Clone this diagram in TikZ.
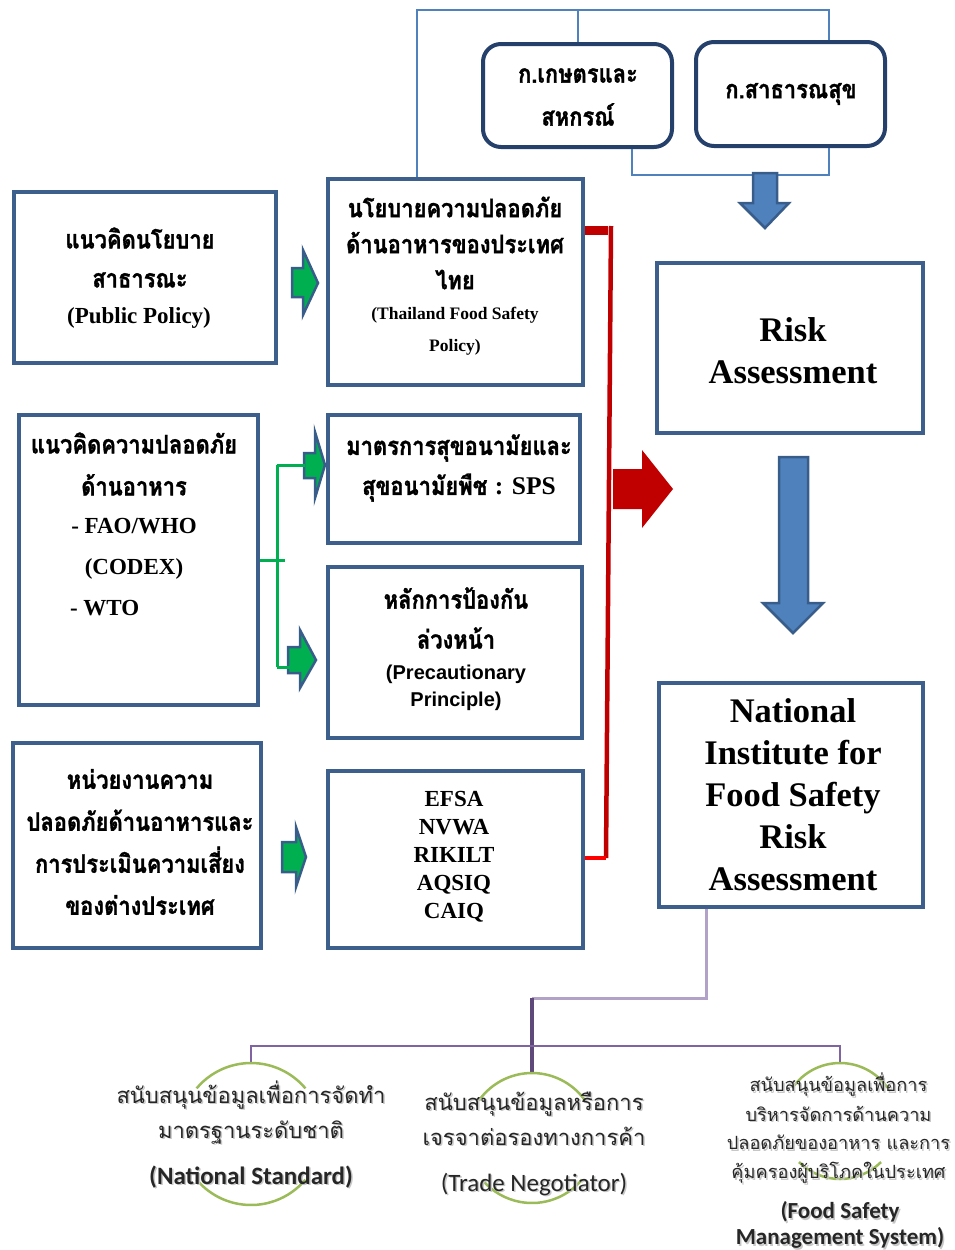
\documentclass[tikz,border=0pt]{standalone}
\usepackage{fontspec}
\setmainfont{Liberation Serif}
\newfontfamily\thaif[Script=Thai]{Loma}
\newfontfamily\thaibox[Script=Thai, FakeStretch=0.86, BoldFeatures={FakeBold=1.2}]{Loma}
\newfontfamily\sansf{Liberation Sans}
\newfontfamily\calf{Carlito}
\definecolor{boxblue}{RGB}{61,95,140}
\definecolor{navy}{RGB}{36,64,107}
\definecolor{linkblue}{RGB}{79,129,189}
\definecolor{arrowedge}{RGB}{56,93,138}
\definecolor{darkred}{RGB}{192,0,0}
\definecolor{brightred}{RGB}{255,0,0}
\definecolor{grn}{RGB}{0,176,80}
\definecolor{lilac}{RGB}{179,162,199}
\definecolor{plum}{RGB}{95,73,122}
\definecolor{violet2}{RGB}{128,100,162}
\definecolor{olive}{RGB}{155,187,89}
\begin{document}
\begin{tikzpicture}[x=1pt,y=-1pt,
  box/.style={draw=boxblue, line width=3.5pt, fill=white, inner sep=0pt},
  ministry/.style={draw=navy, line width=4pt, fill=white, rounded corners=18pt, inner sep=0pt},
  thtext/.style={align=center, inner sep=0pt, font=\thaibox\bfseries\fontsize{25.5}{#1}\selectfont},
  entext/.style={align=center, inner sep=0pt, font=\bfseries\fontsize{23}{#1}\selectfont},
  bigtext/.style={align=center, inner sep=0pt, font=\bfseries\fontsize{34.5}{42}\selectfont},
  subth/.style={align=center, inner sep=0pt, text=black!85, font=\thaif\fontsize{22}{#1}\selectfont},
  suben/.style={align=center, inner sep=0pt, text=black!85, font=\calf\fontsize{25}{#1}\selectfont},
  fsmth/.style={align=center, inner sep=0pt, text=black!85, font=\thaif\fontsize{18.2}{29}\selectfont},
  shade/.style={text=black!22},
  link/.style={draw=linkblue, line width=2pt},
  bluearrow/.style={fill=linkblue, draw=arrowedge, line width=2.5pt, line join=miter},
  greenarrow/.style={fill=grn, draw=arrowedge, line width=2.5pt, line join=miter},
  greenline/.style={draw=grn, line width=3pt},
  ring/.style={draw=olive, line width=2.5pt}
]
\useasboundingbox (0,0) rectangle (954,1250);

% ---------- ministries ----------
\node[ministry, minimum width=189pt, minimum height=103pt] (agri) at (577.5,95.5) {};
\node[ministry, minimum width=189pt, minimum height=104pt] (health) at (790.5,94) {};
\node[thtext=43] (agriT) at (578,97) {ก.เกษตรและ\\สหกรณ์};
\node[thtext=43] (healthT) at (791,94) {ก.สาธารณสุข};

% ---------- left column boxes ----------
\node[box, minimum width=262pt, minimum height=171pt] (pub) at (145,277.5) {};
\node[box, minimum width=239pt, minimum height=290pt] (concept) at (138.5,560) {};
\node[box, minimum width=248pt, minimum height=205pt] (agency) at (137,845.5) {};

% ---------- middle column boxes ----------
\node[box, minimum width=255pt, minimum height=206pt] (policy) at (455.5,282) {};
\node[box, minimum width=252pt, minimum height=128pt] (sps) at (454,479) {};
\node[box, minimum width=254pt, minimum height=171pt] (prec) at (455,652.5) {};
\node[box, minimum width=255pt, minimum height=177pt] (efsa) at (455.5,859.5) {};

% ---------- right column boxes ----------
\node[box, minimum width=266pt, minimum height=170pt] (risk) at (790,348) {};
\node[box, minimum width=264pt, minimum height=224pt] (nifsra) at (791,795) {};

% ---------- box texts ----------
\node[thtext=39] (pubTh) at (140,257.5) {แนวคิดนโยบาย\\สาธารณะ};
\node[entext=30] (pubEn) at (139,318) {(Public Policy)};

\node[thtext=42] (concTh) at (134,464) {แนวคิดความปลอดภัย\\ด้านอาหาร};
\node[entext=41] (concEn) at (134,567.5) {- FAO/WHO\\(CODEX)\\\makebox[128pt][l]{- WTO}};

\node[thtext=42] (agencyT) at (140,842) {หน่วยงานความ\\ปลอดภัยด้านอาหารและ\\การประเมินความเสี่ยง\\ของต่างประเทศ};

\node[thtext=36] (polTh) at (455,243) {นโยบายความปลอดภัย\\ด้านอาหารของประเทศ\\ไทย};
\node[align=center, inner sep=0pt, font=\bfseries\fontsize{17.5}{32}\selectfont] (polEn) at (455,331) {(Thailand Food Safety\\Policy)};

\node[thtext=40] (spsT) at (459,468) {มาตรการสุขอนามัยและ\\สุขอนามัยพืช {\rmfamily : SPS}};

\node[thtext=40] (precTh) at (456,618) {หลักการป้องกัน\\ล่วงหน้า};
\node[align=center, inner sep=0pt, font=\sansf\bfseries\fontsize{20}{27}\selectfont] (precEn) at (456,687.5) {(Precautionary\\Principle)};

\node[entext=28] (efsaT) at (454,856.5) {EFSA\\NVWA\\RIKILT\\AQSIQ\\CAIQ};

\node[bigtext] (riskT) at (793,351) {Risk\\Assessment};
\node[bigtext] (nifT) at (793,795) {National\\Institute for\\Food Safety\\Risk\\Assessment};

% ---------- ministry links ----------
\draw[link] ([xshift=-38.5pt]policy.north) -- ++(0,-167) coordinate (topRail) -| ([xshift=38.5pt]health.north);
\draw[link] (agri.north) -- (agri.north |- topRail);
\draw[link] ([xshift=54.5pt]agri.south) |- ([xshift=38.5pt,yshift=-27pt]health.south) -- ([xshift=38.5pt]health.south);

% ---------- block arrows ----------
\draw[bluearrow] (753,173) -- (777,173) -- (777,203) -- (789,203) -- (765,228) -- (740,203) -- (753,203) -- cycle;
\draw[bluearrow] (779,457) -- (808,457) -- (808,603) -- (823,603) -- (793,633) -- (763,603) -- (779,603) -- cycle;
\fill[darkred] (613,469) -- (642,469) -- (642,450) -- (673,489) -- (642,528) -- (642,509) -- (613,509) -- cycle;

\draw[greenarrow] (292,268) -- (303,268) -- (303,250) -- (318,283) -- (303,315) -- (303,297) -- (292,297) -- cycle;
\draw[greenarrow] (304,453) -- (315,453) -- (315,432) -- (325,465) -- (315,498) -- (315,478) -- (304,478) -- cycle;
\draw[greenarrow] (288,647) -- (300,647) -- (300,630) -- (316,660) -- (300,688) -- (300,673) -- (288,673) -- cycle;
\draw[greenarrow] (282,842) -- (296,842) -- (296,827) -- (306,857) -- (296,887) -- (296,872) -- (282,872) -- cycle;

% ---------- green branch ----------
\coordinate (gTop) at (277,465);
\coordinate (gBot) at (277,667);
\coordinate (gTopTail) at (305,465);
\coordinate (gBotTail) at (290,667);
\draw[greenline] (concept.east) -- ++(25,0);
\draw[greenline] (gTop) -- (gBot);
\draw[greenline] (gTop) -- (gTopTail);
\draw[greenline] (gBot) -- (gBotTail);

% ---------- red collector ----------
\coordinate (rTop) at (611,226);
\coordinate (rBot) at (606,858);
\draw[darkred, line width=9pt] ([yshift=52pt]policy.east) -- ++(23,0);
\draw[darkred, line width=4.5pt] (rTop) -- (rBot);
\draw[brightred, line width=4pt] (efsa.east |- rBot) -- (rBot);

% ---------- output tree ----------
\coordinate (pJoin) at (532,998);
\coordinate (ringL) at (251,1134);
\coordinate (ringM) at (532,1138);
\coordinate (ringR) at (840,1121);
\draw[lilac, line width=3pt] ([xshift=-85pt]nifsra.south) |- (pJoin);
\draw[plum, line width=3.5pt] (pJoin) -- ([yshift=65pt]ringM);
\draw[violet2, line width=2.5pt] ([yshift=71pt]ringL) |- (840,1046) -- ([yshift=58pt]ringR);

\draw[ring] (ringL) ++(220:71) arc[start angle=220, end angle=320, radius=71];
\draw[ring] (ringL) ++(40:71) arc[start angle=40, end angle=140, radius=71];
\draw[ring] (ringM) ++(215:65) arc[start angle=215, end angle=325, radius=65];
\draw[ring] (ringM) ++(40:65) arc[start angle=40, end angle=140, radius=65];
\draw[ring] (ringR) ++(215:58) arc[start angle=215, end angle=325, radius=58];
\draw[ring] (ringR) ++(45:58) arc[start angle=45, end angle=135, radius=58];

% soft shadows under the output texts
\node[subth=35, shade] (stdThS) at (252.5,1114) {สนับสนุนข้อมูลเพื่อการจัดทำ\\มาตรฐานระดับชาติ};
\node[suben=28, font=\calf\bfseries\fontsize{25}{28}\selectfont, shade] (stdEnS) at (252.5,1178.5) {(National Standard)};
\node[subth=35, shade] (tradeThS) at (535.5,1120) {สนับสนุนข้อมูลหรือการ\\เจรจาต่อรองทางการค้า};
\node[suben=28, shade] (tradeEnS) at (535.5,1185.5) {(Trade Negotiator)};
\node[fsmth, shade] (fsmThS) at (840,1130) {สนับสนุนข้อมูลเพื่อการ\\บริหารจัดการด้านความ\\ปลอดภัยของอาหาร และการ\\คุ้มครองผู้บริโภคในประเทศ};
\node[suben=26, font=\calf\bfseries\fontsize{23}{26}\selectfont, shade] (fsmEnS) at (841.5,1226.5) {(Food Safety\\Management System)};

\node[subth=35] (stdTh) at (251,1112.5) {สนับสนุนข้อมูลเพื่อการจัดทำ\\มาตรฐานระดับชาติ};
\node[suben=28, font=\calf\bfseries\fontsize{25}{28}\selectfont] (stdEn) at (251,1177) {(National Standard)};
\node[subth=35] (tradeTh) at (534,1118.5) {สนับสนุนข้อมูลหรือการ\\เจรจาต่อรองทางการค้า};
\node[suben=28] (tradeEn) at (534,1184) {(Trade Negotiator)};
\node[fsmth] (fsmTh) at (838.5,1128.5) {สนับสนุนข้อมูลเพื่อการ\\บริหารจัดการด้านความ\\ปลอดภัยของอาหาร และการ\\คุ้มครองผู้บริโภคในประเทศ};
\node[suben=26, font=\calf\bfseries\fontsize{23}{26}\selectfont] (fsmEn) at (840,1225) {(Food Safety\\Management System)};
\end{tikzpicture}
\end{document}
